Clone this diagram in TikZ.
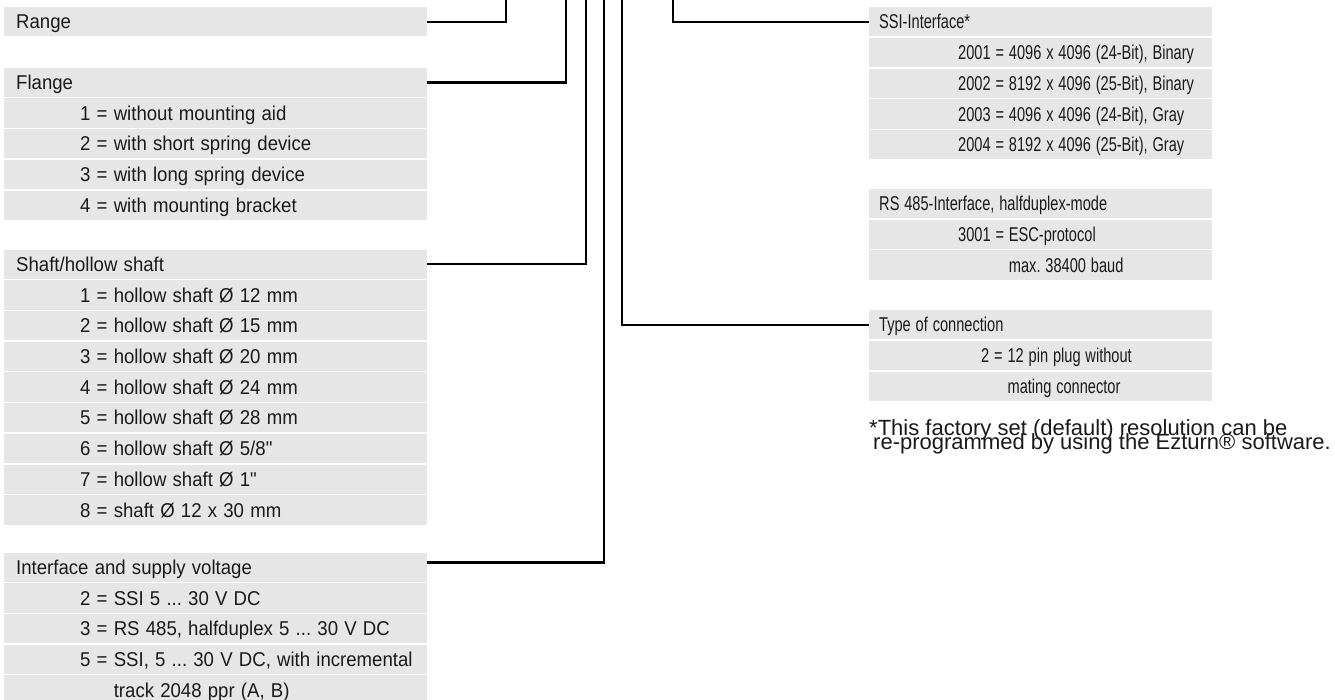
\documentclass[tikz,border=0pt]{standalone}
\usepackage{graphicx}
\usepackage{fontspec}
\setmainfont[Ligatures=TeXOff]{Liberation Sans}
\usetikzlibrary{positioning}
\definecolor{rowgray}{HTML}{E6E6E6}
\definecolor{inkgray}{HTML}{1A1A1A}
\frenchspacing
\newcommand{\wide}[1]{\scalebox{0.93}[1]{#1}}
\newcommand{\cond}[1]{\scalebox{0.73}[1]{#1}}

\tikzset{
    row/.style={fill=rowgray, text=inkgray, inner xsep=0pt, inner ysep=0pt,
        minimum height=29.3pt, text height=14.3pt, text depth=0pt, align=left,
        font=\fontsize{20}{24}\selectfont},
    lrow/.style={row, text width=423pt},
    rrow/.style={row, text width=343pt},
    inset/.style={execute at begin node={\hspace*{#1}}},
    note/.style={inner sep=0pt, text=inkgray, font=\fontsize{22}{26}\selectfont},
    wire/.style={line width=2.5pt}
}

\begin{document}
\begin{tikzpicture}[x=1pt,y=-1pt]
    \useasboundingbox (0,0) rectangle (1335,700);

    % left column
    \node[lrow, inset=12pt, anchor=north west] (range) at (4,7) {\wide{Range}};

    \node[lrow, inset=12pt, anchor=north west] (flange) at (4,67.6) {\wide{Flange}};
    \node[lrow, inset=76pt, below=1pt of flange] (fl1) {\wide{1 = without mounting aid}};
    \node[lrow, inset=76pt, below=1pt of fl1] (fl2) {\wide{2 = with short spring device}};
    \node[lrow, inset=76pt, below=1pt of fl2] (fl3) {\wide{3 = with long spring device}};
    \node[lrow, inset=76pt, below=1pt of fl3] (fl4) {\wide{4 = with mounting bracket}};

    \node[lrow, inset=12pt, anchor=north west] (shaft) at (4,249.4) {\wide{Shaft/hollow shaft}};
    \node[lrow, inset=76pt, below=1pt of shaft] (sh1) {\wide{1 = hollow shaft Ø 12 mm}};
    \node[lrow, inset=76pt, below=1pt of sh1] (sh2) {\wide{2 = hollow shaft Ø 15 mm}};
    \node[lrow, inset=76pt, below=1pt of sh2] (sh3) {\wide{3 = hollow shaft Ø 20 mm}};
    \node[lrow, inset=76pt, below=1pt of sh3] (sh4) {\wide{4 = hollow shaft Ø 24 mm}};
    \node[lrow, inset=76pt, below=1pt of sh4] (sh5) {\wide{5 = hollow shaft Ø 28 mm}};
    \node[lrow, inset=76pt, below=1pt of sh5] (sh6) {\wide{6 = hollow shaft Ø 5/8"}};
    \node[lrow, inset=76pt, below=1pt of sh6] (sh7) {\wide{7 = hollow shaft Ø 1"}};
    \node[lrow, inset=76pt, below=1pt of sh7] (sh8) {\wide{8 = shaft Ø 12 x 30 mm}};

    \node[lrow, inset=12pt, anchor=north west] (iface) at (4,552.4) {\wide{Interface and supply voltage}};
    \node[lrow, inset=76pt, below=1pt of iface] (if1) {\wide{2 = SSI 5 ... 30 V DC}};
    \node[lrow, inset=76pt, below=1pt of if1] (if2) {\wide{3 = RS 485, halfduplex 5 ... 30 V DC}};
    \node[lrow, inset=76pt, below=1pt of if2] (if3) {\wide{5 = SSI, 5 ... 30 V DC, with incremental}};
    \node[lrow, inset=76pt, below=1pt of if3] (if4) {\wide{\phantom{5 = }track 2048 ppr (A, B)}};

    % right column
    \node[rrow, inset=10pt, anchor=north west] (ssi) at (869,7) {\cond{SSI-Interface*}};
    \node[rrow, inset=89pt, below=1pt of ssi] (ssi1) {\cond{2001 = 4096 x 4096 (24-Bit), Binary}};
    \node[rrow, inset=89pt, below=1pt of ssi1] (ssi2) {\cond{2002 = 8192 x 4096 (25-Bit), Binary}};
    \node[rrow, inset=89pt, below=1pt of ssi2] (ssi3) {\cond{2003 = 4096 x 4096 (24-Bit), Gray}};
    \node[rrow, inset=89pt, below=1pt of ssi3] (ssi4) {\cond{2004 = 8192 x 4096 (25-Bit), Gray}};

    \node[rrow, inset=10pt, anchor=north west] (rs) at (869,188.8) {\cond{RS 485-Interface, halfduplex-mode}};
    \node[rrow, inset=89pt, below=1pt of rs] (rs1) {\cond{3001 = ESC-protocol}};
    \node[rrow, inset=89pt, below=1pt of rs1] (rs2) {\cond{\phantom{3001 = }max. 38400 baud}};

    \node[rrow, inset=10pt, anchor=north west] (conn) at (869,310) {\cond{Type of connection}};
    \node[rrow, inset=112pt, below=1pt of conn] (conn1) {\cond{2 = 12 pin plug without}};
    \node[rrow, inset=112pt, below=1pt of conn1] (conn2) {\cond{\phantom{2 = }mating connector}};

    \node[note, anchor=base west] (note1) at (869,435) {*This factory set (default) resolution can be};
    \node[note, anchor=base west] (note2) at ([xshift=4pt,yshift=-14.5pt]note1.base west)
        {re-programmed by using the Ezturn® software.};

    % leader lines up to the type key
    \coordinate (top1) at (506,0);
    \coordinate (top2) at (566,0);
    \coordinate (top3) at (586,0);
    \coordinate (top4) at (604,0);
    \coordinate (top5) at (622,0);
    \coordinate (top6) at (673,0);
    \draw[wire] (range.east) -| (top1);
    \draw[wire] (flange.east) -| (top2);
    \draw[wire] (shaft.east) -| (top3);
    \draw[wire] ([yshift=5pt]iface.east) -| (top4);
    \draw[wire] (conn.west) -| (top5);
    \draw[wire] (ssi.west) -| (top6);
\end{tikzpicture}
\end{document}
